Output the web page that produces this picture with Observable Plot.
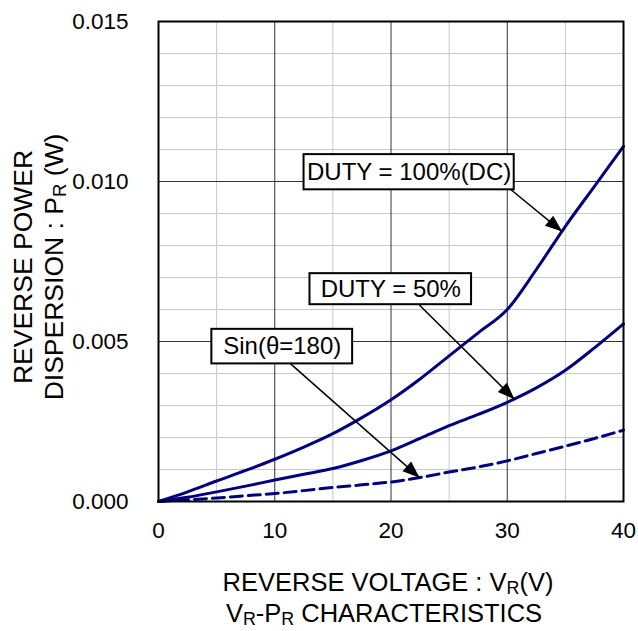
<!DOCTYPE html>
<html><head><meta charset="utf-8">
<script src="https://cdn.jsdelivr.net/npm/d3@7"></script>
<script src="https://cdn.jsdelivr.net/npm/@observablehq/plot@0.6"></script>
<style>html,body{margin:0;padding:0;background:#fff;} #chart svg{display:block}</style>
</head><body><div id="chart"></div>
<script>
// Reverse voltage (V)
const voltage = [0, 2.5, 5, 7.5, 10, 12.5, 15, 17.5, 20, 22.5, 25, 27.5, 30, 32.5, 35, 37.5, 40];
// Reverse power (mW)
const dutyDC  = [0, 0.30, 0.64, 0.97, 1.32, 1.70, 2.12, 2.62, 3.18, 3.83, 4.55, 5.27, 6.00, 7.25, 8.60, 9.85, 11.10];
const duty50  = [0, 0.13, 0.30, 0.48, 0.67, 0.85, 1.03, 1.28, 1.58, 1.97, 2.37, 2.72, 3.10, 3.55, 4.10, 4.80, 5.55];
const sinHalf = [0, 0.05, 0.11, 0.18, 0.25, 0.34, 0.44, 0.52, 0.61, 0.75, 0.92, 1.08, 1.27, 1.50, 1.73, 1.97, 2.23];

const xTicks = [0, 10, 20, 30, 40];
const yTicks = [0, 0.005, 0.010, 0.015];
const xMinor = [5, 15, 25, 35];
const xMajor = [10, 20, 30];
const yMinor = [0.001, 0.002, 0.003, 0.004, 0.006, 0.007, 0.008, 0.009, 0.011, 0.012, 0.013, 0.014];
const yMajor = [0.005, 0.010];

// Annotation labels (box corners and arrows in data units)
const labelText = ["DUTY = 100%(DC)", "DUTY = 50%", "Sin(θ=180)"];
const boxX1 = [12.52, 13.03, 4.59];
const boxX2 = [30.60, 26.93, 16.70];
const boxY1 = [0.01084, 0.00712, 0.00538];
const boxY2 = [0.00974, 0.00615, 0.00430];
const arrowFromX = [30.30, 22.42, 11.37];
const arrowFromY = [0.00975, 0.00615, 0.00430];
const arrowToX = [34.77, 30.66, 22.50];
const arrowToY = [0.00842, 0.00318, 0.00073];

const toRows = (vals) => voltage.map((v, i) => ({v, p: vals[i] / 1000}));
const boxes = labelText.map((t, i) => ({t, x1: boxX1[i], x2: boxX2[i], y1: boxY1[i], y2: boxY2[i],
  cx: (boxX1[i] + boxX2[i]) / 2, cy: (boxY1[i] + boxY2[i]) / 2}));
const arrows = labelText.map((t, i) => ({x1: arrowFromX[i], y1: arrowFromY[i], x2: arrowToX[i], y2: arrowToY[i]}));

const FONT = '"Liberation Sans", Arial, Helvetica, sans-serif';
const NAVY = "#000080";

const chart = Plot.plot({
  width: 638, height: 631,
  marginLeft: 158, marginRight: 15, marginTop: 21, marginBottom: 130,
  style: {fontFamily: FONT, background: "white", color: "black", overflow: "visible"},
  x: {domain: [0, 40]},
  y: {domain: [0, 0.015]},
  marks: [
    Plot.ruleX(xMinor, {stroke: "#c8c8c8", strokeWidth: 1}),
    Plot.ruleY(yMinor, {stroke: "#c8c8c8", strokeWidth: 1}),
    Plot.ruleX(xMajor, {stroke: "#333", strokeWidth: 1}),
    Plot.ruleY(yMajor, {stroke: "#333", strokeWidth: 1}),
    Plot.line(toRows(dutyDC), {x: "v", y: "p", stroke: NAVY, strokeWidth: 3, curve: "monotone-x"}),
    Plot.line(toRows(duty50), {x: "v", y: "p", stroke: NAVY, strokeWidth: 3, curve: "monotone-x"}),
    Plot.line(toRows(sinHalf), {x: "v", y: "p", stroke: NAVY, strokeWidth: 3, strokeDasharray: "12,6", curve: "monotone-x"}),
    Plot.link(arrows, {x1: "x1", y1: "y1", x2: "x2", y2: "y2", stroke: "black", strokeWidth: 1.5}),
    (index, scales) => {
      const g = d3.create("svg:g");
      for (const a of arrows) {
        const x0 = scales.x(a.x1), y0 = scales.y(a.y1), x1 = scales.x(a.x2), y1 = scales.y(a.y2);
        const ang = Math.atan2(y1 - y0, x1 - x0);
        const L = 17, W = 6.5;
        const bx = x1 - L * Math.cos(ang), by = y1 - L * Math.sin(ang);
        const px = -Math.sin(ang) * W, py = Math.cos(ang) * W;
        g.append("path").attr("d", `M${x1},${y1}L${bx + px},${by + py}L${bx - px},${by - py}Z`).attr("fill", "black");
      }
      return g.node();
    },
    Plot.rect(boxes, {x1: "x1", x2: "x2", y1: "y1", y2: "y2", fill: "white", stroke: "black", strokeWidth: 2}),
    Plot.text(boxes, {x: "cx", y: "cy", text: "t", fontSize: 24, textAnchor: "middle", fill: "black"}),
    Plot.frame({stroke: "black", strokeWidth: 2}),
    Plot.axisX(xTicks, {tickSize: 0, tickPadding: 21, fontSize: 22.5, tickFormat: d3.format("d"), label: null, fill: "black"}),
    Plot.axisY(yTicks, {tickSize: 0, tickPadding: 30, fontSize: 22.5, tickFormat: d3.format(".3f"), label: null, fill: "black"})
  ]
});

const svg = d3.select(chart);
function addTitle(parts, transform, size) {
  const t = svg.append("text").attr("transform", transform).attr("text-anchor", "middle")
    .attr("font-family", FONT).attr("font-size", size).attr("fill", "black");
  for (const [s, sub] of parts) {
    t.append("tspan").attr("baseline-shift", sub ? "-15%" : null).attr("font-size", sub ? "70%" : null).text(s);
  }
}
addTitle([["REVERSE VOLTAGE : V"], ["R", true], ["(V)"]], "translate(388,591)", 25.5);
addTitle([["V"], ["R", true], ["-P"], ["R", true], [" CHARACTERISTICS"]], "translate(384,622)", 25.5);
addTitle([["REVERSE POWER"]], "translate(32,267) rotate(-90)", 26.5);
addTitle([["DISPERSION : P"], ["R", true], [" (W)"]], "translate(63,267) rotate(-90)", 26.5);

document.getElementById("chart").appendChild(chart);
</script>
</body></html>
